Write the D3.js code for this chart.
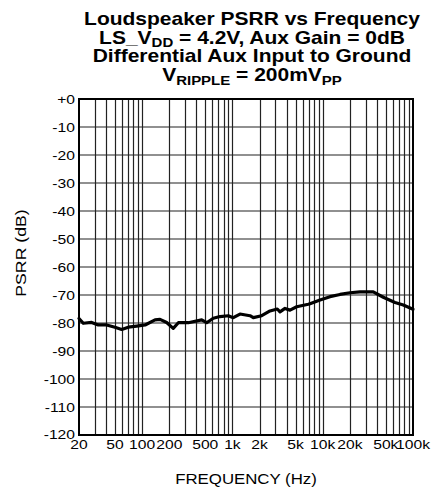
<!DOCTYPE html>
<html>
<head>
<meta charset="utf-8">
<script src="https://cdn.jsdelivr.net/npm/d3@7"></script>
<style>
html,body{margin:0;padding:0;background:#fff;}
svg{display:block;font-family:"Liberation Sans",Arial,Helvetica,sans-serif;}
</style>
</head>
<body>
<svg id="chart" width="442" height="490"></svg>
<script>
const freq = [20, 22.3, 27.6, 32.7, 40.5, 50, 59.4, 70.3, 87, 108, 139, 158, 187, 221, 252, 325, 457, 519, 614, 729, 900, 1023, 1213, 1566, 1704, 2110, 2608, 3141, 3365, 3822, 4342, 5152, 6923, 7231, 9333, 12040, 15540, 20050, 25870, 36320, 46880, 63160, 78070, 100000];
const psrr = [-78.4, -80.1, -79.8, -80.7, -80.7, -81.5, -82.3, -81.5, -81.1, -80.7, -78.9, -78.7, -79.8, -81.9, -79.9, -79.9, -78.9, -79.9, -78.3, -77.7, -77.4, -78.1, -76.8, -77.4, -78.1, -77.4, -75.7, -75.0, -76.0, -74.8, -75.4, -74.2, -73.3, -73.1, -71.8, -70.6, -69.8, -69.2, -68.9, -68.9, -70.8, -72.7, -73.6, -75.1];
const xTickValues = [20, 50, 100, 200, 500, 1000, 2000, 5000, 10000, 20000, 50000, 100000];
const xTickLabels = ["20", "50", "100", "200", "500", "1k", "2k", "5k", "10k", "20k", "50k", "100k"];
const yTickValues = [0, -10, -20, -30, -40, -50, -60, -70, -80, -90, -100, -110, -120];
const yTickLabels = ["+0", "-10", "-20", "-30", "-40", "-50", "-60", "-70", "-80", "-90", "-100", "-110", "-120"];
const xLabel = "FREQUENCY (Hz)";
const yLabel = "PSRR (dB)";

const svg = d3.select("#chart");
const L = 79, R = 413, T = 99, B = 435;
const SX = 1.16;

const x = d3.scaleLog().domain([20, 100000]).range([L, R]);
const y = d3.scaleLinear().domain([-120, 0]).range([B, T]);

const vgrid = [];
for (let dec = 10; dec <= 100000; dec *= 10) {
  for (let m = 1; m <= 9; m++) {
    const v = dec * m;
    if (v > 20 && v < 100000) vgrid.push(v);
  }
}

const grid = svg.append("g");
grid.selectAll("line.v").data(vgrid).join("line")
  .attr("x1", d => Math.round(x(d)) + 0.5).attr("x2", d => Math.round(x(d)) + 0.5)
  .attr("y1", T).attr("y2", B)
  .attr("stroke", "#222").attr("stroke-width", 1.2);
grid.selectAll("line.h").data(yTickValues.filter(v => v > -120 && v < 0)).join("line")
  .attr("x1", L).attr("x2", R)
  .attr("y1", d => y(d)).attr("y2", d => y(d))
  .attr("stroke", "#222").attr("stroke-width", 1.2);

svg.append("rect").attr("x", L).attr("y", T).attr("width", R - L).attr("height", B - T)
  .attr("fill", "none").attr("stroke", "#000").attr("stroke-width", 2);

const line = d3.line().x((d, i) => x(freq[i])).y(d => y(d)).curve(d3.curveLinear);
svg.append("path").datum(psrr).attr("d", line)
  .attr("fill", "none").attr("stroke", "#000").attr("stroke-width", 3.2)
  .attr("stroke-linejoin", "round").attr("stroke-linecap", "round");

function stext(g, tx, ty, str, size, anchor, weight) {
  return g.append("text")
    .attr("transform", `translate(${tx},${ty}) scale(${SX},1)`)
    .attr("text-anchor", anchor || "middle")
    .attr("font-size", size)
    .attr("font-weight", weight || "normal")
    .attr("fill", "#000")
    .text(str);
}

const ax = svg.append("g");
xTickValues.forEach((v, i) => stext(ax, x(v), 449, xTickLabels[i], 13.5, "middle"));
yTickValues.forEach((v, i) => stext(ax, 75, y(v) + (v === -120 ? 3.5 : 4.5), yTickLabels[i], 13.5, "end"));

stext(svg, 246, 484, xLabel, 14.5, "middle");
svg.append("text")
  .attr("transform", `translate(26,253) rotate(-90) scale(${SX + 0.06},1)`)
  .attr("text-anchor", "middle").attr("font-size", 14.5).text(yLabel);

const tg = svg.append("g");
const tcx = 252;
function titleLine(ty, parts) {
  const t = tg.append("text")
    .attr("transform", `translate(${tcx},${ty}) scale(1.2,1)`)
    .attr("text-anchor", "middle").attr("font-weight", "bold").attr("font-size", 17.5);
  let shifted = false;
  parts.forEach(p => {
    const ts = t.append("tspan").text(p.t);
    if (p.sub) {
      ts.attr("font-size", 12.5).attr("dy", 3.5);
      shifted = true;
    } else if (shifted) {
      ts.attr("dy", -3.5);
      shifted = false;
    }
  });
}
titleLine(25, [{t: "Loudspeaker PSRR vs Frequency"}]);
titleLine(43.5, [{t: "LS_V"}, {t: "DD", sub: true}, {t: " = 4.2V, Aux Gain = 0dB"}]);
titleLine(62, [{t: "Differential Aux Input to Ground"}]);
titleLine(81, [{t: "V"}, {t: "RIPPLE", sub: true}, {t: " = 200mV"}, {t: "PP", sub: true}]);
</script>
</body>
</html>
